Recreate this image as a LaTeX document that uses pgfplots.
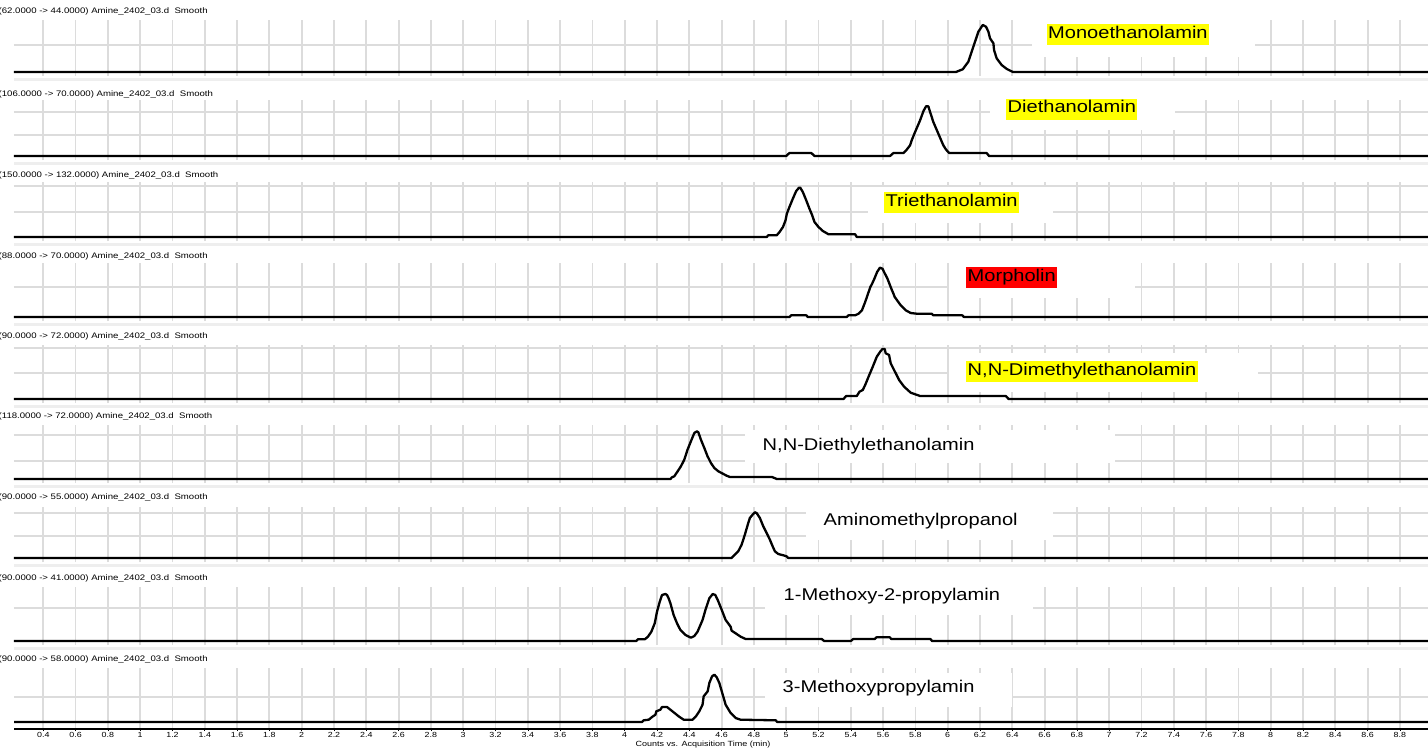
\documentclass[border=0pt]{standalone}
\usepackage{fontspec}
\setmainfont{Liberation Sans}
\usepackage{graphicx}
\usepackage{pgfplots}
\pgfplotsset{compat=1.18}
\definecolor{gridc}{HTML}{DCDCDC}
\definecolor{bandc}{HTML}{EEEEEE}
\definecolor{hlyellow}{HTML}{FFFF00}
\definecolor{hlred}{HTML}{FF0000}
\pgfplotsset{
 panel/.style={
  x=161.5pt, y=1pt, xmin=0.2186, xmax=8.973, ymin=-4,
  anchor=south west, axis line style={draw=none},
  xtick={0.4,0.6,0.8,1,1.2,1.4,1.6,1.8,2,2.2,2.4,2.6,2.8,3,3.2,3.4,3.6,3.8,4,4.2,4.4,4.6,4.8,5,5.2,5.4,5.6,5.8,6,6.2,6.4,6.6,6.8,7,7.2,7.4,7.6,7.8,8,8.2,8.4,8.6,8.8},
  xticklabel={\mbox{}}, yticklabel={\mbox{}},
  grid=major, grid style={line width=1.8pt, color=gridc}, major grid style={line width=1.8pt, color=gridc},
 },
 hideticks/.style={tick style={draw=none}},
 trace/.style={black, mark=none, line width=2.3pt, line join=round},
}
\newcommand{\lab}[4]{\node[anchor=base west, inner xsep=1.5pt, inner ysep=0pt, text height=14pt, text depth=7pt, fill=#4, font=\fontsize{17}{20}\selectfont] at (#1pt,-#2pt) {\scalebox{1.18}[1]{#3}};}
\newcommand{\hdr}[2]{\node[anchor=base west, inner sep=0pt, font=\fontsize{8}{9}\selectfont] at (-1.5pt,-#1pt) {\scalebox{1.2}[1]{#2\ Amine\_2402\_03.d\ \ Smooth}};}
\newcommand{\wbox}[4]{\fill[white] (#1pt,-#2pt) rectangle (#3pt,-#4pt);}
\newcommand{\band}[1]{\fill[bandc] (14pt,-#1pt-6pt) rectangle (1428pt,-#1pt-9pt);}
\begin{document}
\begin{tikzpicture}
% Panel 1
\begin{axis}[panel, hideticks, ymax=52, ytick={27}, at={(14pt,-76pt)}]
\addplot[trace] coordinates {(0.2186,0) (6.051,0) (6.093,2.7) (6.128,10.3) (6.159,25.3) (6.190,40.3) (6.217,47) (6.237,45.3) (6.252,40.3) (6.262,33.7) (6.283,28.7) (6.287,22) (6.303,13.7) (6.334,7) (6.366,3) (6.404,0) (8.973,0)};
\end{axis}
% Panel 2
\begin{axis}[panel, hideticks, ymax=56, ytick={21,44}, at={(14pt,-160pt)}]
\addplot[trace] coordinates {(0.2186,0) (5.0,0) (5.020,3) (5.155,3) (5.176,0) (5.643,0) (5.664,3) (5.726,3) (5.746,6.3) (5.767,10.7) (5.777,15.7) (5.798,24) (5.829,35.7) (5.850,45) (5.866,49.7) (5.880,49.7) (5.891,44) (5.911,34) (5.942,22.3) (5.973,10.7) (5.990,6.3) (6.010,3) (6.241,3) (6.256,0) (8.973,0)};
\end{axis}
% Panel 3
\begin{axis}[panel, hideticks, ymax=55, ytick={25,51}, at={(14pt,-241pt)}]
\addplot[trace] coordinates {(0.2186,0) (4.879,0) (4.889,1.7) (4.941,1.7) (4.959,5) (4.980,10) (4.996,16.7) (5.004,23.3) (5.020,30) (5.041,38.3) (5.062,46) (5.079,49.3) (5.087,49.3) (5.103,45) (5.124,36.7) (5.144,28.3) (5.161,21.7) (5.175,15) (5.200,10) (5.227,6) (5.262,2.7) (5.293,2.7) (5.427,2.7) (5.437,0) (8.973,0)};
\end{axis}
% Panel 4
\begin{axis}[panel, hideticks, ymax=54, ytick={30}, at={(14pt,-321pt)}]
\addplot[trace] coordinates {(0.2186,0) (5.020,0) (5.031,1.7) (5.124,1.7) (5.134,0) (5.375,0) (5.386,1.7) (5.427,1.7) (5.448,3.3) (5.469,6.7) (5.489,15) (5.521,30) (5.532,33.3) (5.546,38.3) (5.563,45) (5.580,49.3) (5.596,48.3) (5.606,45) (5.627,38.3) (5.651,28.3) (5.664,23.3) (5.672,20) (5.709,11.7) (5.740,6.7) (5.771,4) (5.808,3.3) (5.901,3.3) (5.911,1.7) (6.090,1.7) (6.100,0) (8.973,0)};
\end{axis}
% Panel 5
\begin{axis}[panel, hideticks, ymax=54, ytick={26,51}, at={(14pt,-403pt)}]
\addplot[trace] coordinates {(0.2186,0) (5.355,0) (5.371,3) (5.437,3) (5.454,7.3) (5.474,9) (5.489,14) (5.510,22.3) (5.536,32.3) (5.561,42.3) (5.582,47.3) (5.596,50) (5.610,50) (5.616,45.7) (5.637,44) (5.647,35.7) (5.668,29) (5.699,19) (5.730,12.3) (5.771,6.3) (5.829,3) (6.360,3) (6.377,0) (8.973,0)};
\end{axis}
% Panel 6
\begin{axis}[panel, hideticks, ymax=54, ytick={18,44}, at={(14pt,-483pt)}]
\addplot[trace] coordinates {(0.2186,0) (4.283,0) (4.293,1.7) (4.307,2.7) (4.328,7.7) (4.348,12.7) (4.369,19.3) (4.389,29.3) (4.410,37.7) (4.431,46) (4.447,47.7) (4.456,46.7) (4.472,39.3) (4.493,31) (4.513,22.7) (4.534,16) (4.555,11) (4.580,7.7) (4.600,6) (4.631,3.3) (4.652,2) (4.912,2) (4.942,0) (8.973,0)};
\end{axis}
% Panel 7
\begin{axis}[panel, hideticks, ymax=51, ytick={22,45}, at={(14pt,-562pt)}]
\addplot[trace] coordinates {(0.2186,0) (4.662,0) (4.676,2.3) (4.703,6.7) (4.724,13.3) (4.744,23.3) (4.765,35) (4.775,40) (4.792,43.3) (4.806,45.7) (4.817,45) (4.837,40) (4.858,31.7) (4.879,25) (4.899,18.3) (4.916,11.7) (4.930,6.7) (4.951,4) (4.982,2.7) (5.002,1.7) (5.013,0) (8.973,0)};
\end{axis}
% Panel 8
\begin{axis}[panel, hideticks, ymax=54, ytick={33}, at={(14pt,-645pt)}]
\addplot[trace] coordinates {(0.2186,0) (4.072,0) (4.082,1.7) (4.124,1.7) (4.144,4.3) (4.165,9.3) (4.186,17.7) (4.200,29.3) (4.217,39.3) (4.231,46) (4.252,47) (4.262,46) (4.272,42.7) (4.283,37.7) (4.303,26) (4.324,17.7) (4.345,11) (4.377,6) (4.410,3.3) (4.431,5) (4.451,9.3) (4.482,21) (4.503,32.7) (4.524,42.7) (4.545,47) (4.561,46) (4.576,41) (4.597,32.7) (4.625,21) (4.656,14.3) (4.662,10.3) (4.687,7.7) (4.718,4.3) (4.749,2) (5.220,2) (5.235,0) (5.400,0) (5.415,2) (5.549,2) (5.559,3.7) (5.641,3.7) (5.651,2) (5.893,2) (5.903,0) (8.973,0)};
\end{axis}
% Panel 9
\begin{axis}[panel, ymin=-7, ymax=54, ytick={25}, at={(14pt,-729pt)},
  ytick style={draw=none}, xtick pos=bottom, tick align=outside,
  xtick style={draw=black, line width=0.6pt}, major tick length=2pt,
  xticklabel={\scalebox{1.2}[1]{\pgfmathprintnumber[assume math mode=true]{\tick}}},
  xticklabel style={font=\fontsize{7.4}{8}\selectfont, inner sep=0pt, anchor=north, yshift=-1pt},
  extra description/.code={\draw[line width=2pt] (rel axis cs:0,0) -- (rel axis cs:1,0);}]
\addplot[trace] coordinates {(0.2186,0) (4.107,0) (4.118,1.7) (4.149,2.3) (4.169,5) (4.190,7.3) (4.196,10.7) (4.221,12.3) (4.231,15) (4.262,15) (4.283,12.3) (4.314,8.3) (4.334,5.7) (4.365,2.3) (4.420,2.3) (4.441,5.7) (4.462,10.7) (4.482,17.3) (4.489,25.7) (4.514,30.7) (4.524,39) (4.541,45.7) (4.555,47.3) (4.569,45) (4.586,39) (4.604,29) (4.625,17.3) (4.656,9) (4.687,4) (4.718,2.3) (4.935,1.7) (4.945,0) (8.973,0)};
\end{axis}
% separators
\band{72}\band{156}\band{237}\band{317}\band{399}\band{479}\band{558}\band{641}
% headers
\hdr{14}{(62.0000 -> 44.0000)}
\hdr{96}{(106.0000 -> 70.0000)}
\hdr{177}{(150.0000 -> 132.0000)}
\hdr{258}{(88.0000 -> 70.0000)}
\hdr{338}{(90.0000 -> 72.0000)}
\hdr{418}{(118.0000 -> 72.0000)}
\hdr{499}{(90.0000 -> 55.0000)}
\hdr{580}{(90.0000 -> 41.0000)}
\hdr{661}{(90.0000 -> 58.0000)}
% label backgrounds
\wbox{1032}{14}{1255}{57}
\wbox{990}{98}{1175}{130}
\wbox{868}{187}{1053}{223}
\wbox{949}{258}{1135}{298}
\wbox{949}{353}{1258}{392}
\wbox{745}{430}{1115}{463}
\wbox{806}{502}{1053}{540}
\wbox{765}{582}{1033}{615}
\wbox{765}{673}{1012}{707}
% labels
\lab{1046.5}{38.3}{Monoethanolamin}{hlyellow}
\lab{1006}{113}{Diethanolamin}{hlyellow}
\lab{884}{206}{Triethanolamin}{hlyellow}
\lab{966}{281}{Morpholin}{hlred}
\lab{966}{375}{N,N-Dimethylethanolamin}{hlyellow}
\lab{761}{450}{N,N-Diethylethanolamin}{white}
\lab{822}{525}{Aminomethylpropanol}{white}
\lab{782}{600}{1-Methoxy-2-propylamin}{white}
\lab{781}{692}{3-Methoxypropylamin}{white}
% axis title
\node[inner sep=0pt, font=\fontsize{7.5}{9}\selectfont] at (703pt,-745pt) {\scalebox{1.2}[1]{Counts vs. Acquisition Time (min)}};
\pgfresetboundingbox
\path[use as bounding box] (0pt,0pt) rectangle (1428pt,-752pt);
\end{tikzpicture}
\end{document}
